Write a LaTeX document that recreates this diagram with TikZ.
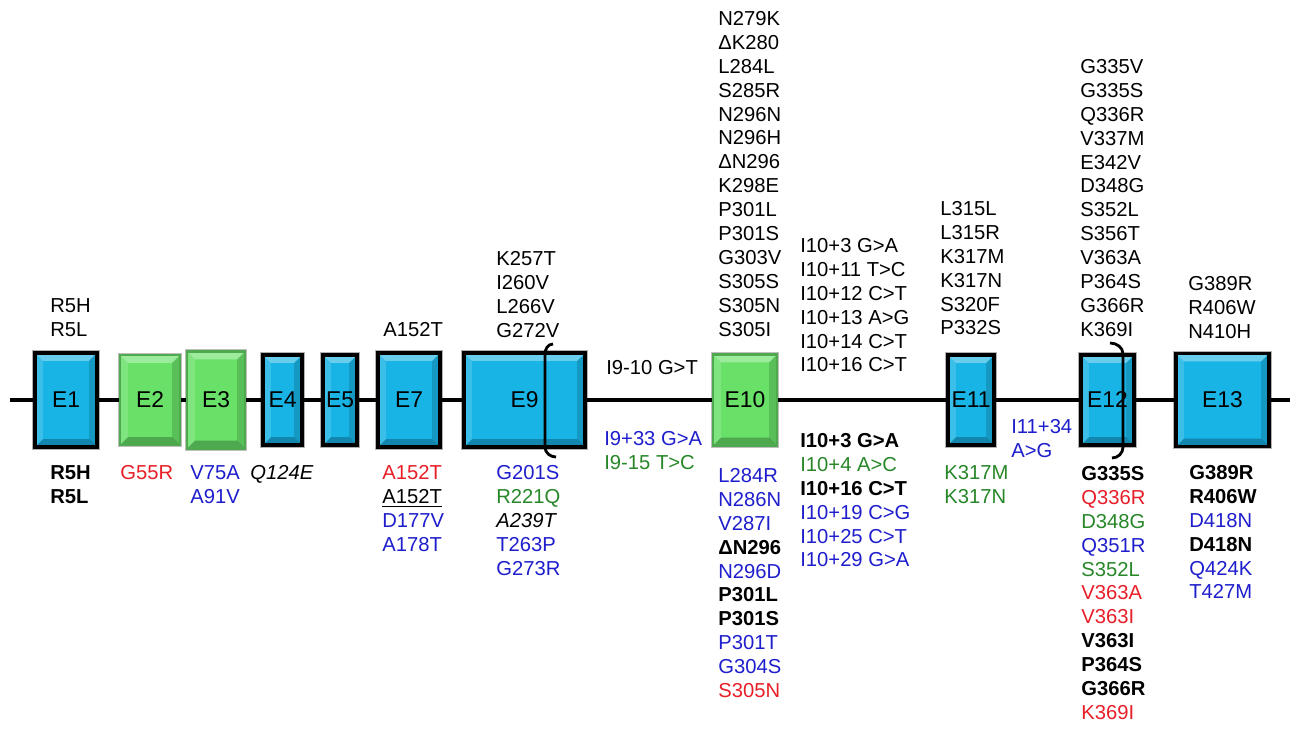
\documentclass[tikz,border=0pt]{standalone}
\usepackage{fontspec}
\setmainfont{Liberation Sans}
\usetikzlibrary{calc,positioning}
\definecolor{exblue}{RGB}{25,180,230}
\definecolor{exgreen}{RGB}{105,225,105}
\definecolor{mred}{RGB}{232,30,40}
\definecolor{mblue}{RGB}{30,30,205}
\definecolor{mgreen}{RGB}{40,135,40}
\newcommand\mutR[1]{\textcolor{mred}{#1}}
\newcommand\mutB[1]{\textcolor{mblue}{#1}}
\newcommand\mutG[1]{\textcolor{mgreen}{#1}}
\newcommand\mutK[1]{\textbf{#1}}
\newcommand\bevelfaces{%
\fill[white,opacity=.35](path picture bounding box.north west)--(path picture bounding box.north east)
  --($(path picture bounding box.north east)+(-4.5pt,-4.5pt)$)--($(path picture bounding box.north west)+(4.5pt,-4.5pt)$)--cycle;
\fill[black,opacity=.25](path picture bounding box.south west)--(path picture bounding box.south east)
  --($(path picture bounding box.south east)+(-4.5pt,4.5pt)$)--($(path picture bounding box.south west)+(4.5pt,4.5pt)$)--cycle;
\fill[white,opacity=.15](path picture bounding box.north west)--(path picture bounding box.south west)
  --($(path picture bounding box.south west)+(4.5pt,4.5pt)$)--($(path picture bounding box.north west)+(4.5pt,-4.5pt)$)--cycle;
\fill[black,opacity=.15](path picture bounding box.north east)--(path picture bounding box.south east)
  --($(path picture bounding box.south east)+(-4.5pt,4.5pt)$)--($(path picture bounding box.north east)+(-4.5pt,-4.5pt)$)--cycle;}
\tikzset{
  exsize/.style 2 args={rectangle,minimum width=#1*0.02cm,minimum height=#2*0.02cm,inner sep=0pt,
    font=\fontsize{13}{15}\selectfont,path picture={\bevelfaces}},
  exonB/.style={draw=black,line width=1.8pt,fill=exblue,preaction={draw=gray!60,line width=3.4pt}},
  exonG/.style={draw=exgreen!75!black,line width=1.4pt,fill=exgreen,preaction={draw=gray!50,line width=2.8pt}},
  mut/.style={anchor=north west,align=left,inner sep=0pt,font=\fontsize{11.5}{13.6}\selectfont},
  backbone/.style={line width=2.2pt},
  brace/.style={line width=1.6pt}
}
\begin{document}
\begin{tikzpicture}[x=0.02cm,y=-0.02cm]
\useasboundingbox[fill=white](0,0)rectangle(1300,732);
% exons
\node[exonB,exsize={62}{94}](E1)at(66,400){E1};
\node[exonG,exsize={60}{90}](E2)at(150,400){E2};
\node[exonG,exsize={58}{97}](E3)at(216,400){E3};
\node[exonB,exsize={39}{90}](E4)at(282.5,400){E4};
\node[exonB,exsize={34}{90}](E5)at(340,400){E5};
\node[exonB,exsize={62}{94}](E7)at(409,400){E7};
\node[exonB,exsize={121}{94}](E9)at(524.5,400){E9};
\node[exonG,exsize={64}{91}](E10)at(745,400){E10};
\node[exonB,exsize={46}{90}](E11)at(971,400){E11};
\node[exonB,exsize={53}{90}](E12)at(1107.5,400){E12};
\node[exonB,exsize={93}{93}](E13)at(1222.5,400){E13};
\coordinate(L)at(10,400);\coordinate(R)at(1290,400);
\draw[backbone](L)--(E1)(E1)--(E2)(E2)--(E3)(E3)--(E4)(E4)--(E5)(E5)--(E7)(E7)--(E9)
  (E9)--(E10)(E10)--(E11)(E11)--(E12)(E12)--(E13)(E13)--(R);
\draw[brace](553,344)to[out=180,in=90](545,354)--(545,447)to[out=-90,in=180](556,457);
\draw[brace](1110,343)to[out=0,in=90](1123,354)--(1123,447)to[out=-90,in=0](1112,458);
% above the line
\node[mut](aE1)at(50,298){R5H\\R5L};
\node[mut](aE7)at(383,322){A152T};
\node[mut](aE9)at(496,251){K257T\\I260V\\L266V\\G272V};
\node[mut](aE10)at(718,11){N279K\\ΔK280\\L284L\\S285R\\N296N\\N296H\\ΔN296\\K298E\\P301L\\P301S\\G303V\\S305S\\S305N\\S305I};
\node[mut](aI9)at(606,360){I9-10 G>T};
\node[mut](aI10)at(800,238){I10+3 G>A\\I10+11 T>C\\I10+12 C>T\\I10+13 A>G\\I10+14 C>T\\I10+16 C>T};
\node[mut](aE11)at(940,201){L315L\\L315R\\K317M\\K317N\\S320F\\P332S};
\node[mut](aE12)at(1080,59){G335V\\G335S\\Q336R\\V337M\\E342V\\D348G\\S352L\\S356T\\V363A\\P364S\\G366R\\K369I};
\node[mut](aE13)at(1188,276){G389R\\R406W\\N410H};
% below the line
\node[mut](bE1)at(50,465){\mutK{R5H}\\\mutK{R5L}};
\node[mut](bE2)at(120,465){\mutR{G55R}};
\node[mut](bE3)at(190,465){\mutB{V75A}\\\mutB{A91V}};
\node[mut](bE4)at(250,465){\textit{Q124E}};
\node[mut](bE7)at(382,465){\mutR{A152T}\\\underline{A152T}\\\mutB{D177V}\\\mutB{A178T}};
\node[mut](bE9)at(496,465){\mutB{G201S}\\\mutG{R221Q}\\\textit{A239T}\\\mutB{T263P}\\\mutB{G273R}};
\node[mut](bI9)at(604,431){\mutB{I9+33 G>A}\\\mutG{I9-15 T>C}};
\node[mut](bE10)at(718,468){\mutB{L284R}\\\mutB{N286N}\\\mutB{V287I}\\\mutK{ΔN296}\\\mutB{N296D}\\\mutK{P301L}\\\mutK{P301S}\\\mutB{P301T}\\\mutB{G304S}\\\mutR{S305N}};
\node[mut](bI10)at(800,433){\mutK{I10+3 G>A}\\\mutG{I10+4 A>C}\\\mutK{I10+16 C>T}\\\mutB{I10+19 C>G}\\\mutB{I10+25 C>T}\\\mutB{I10+29 G>A}};
\node[mut](bE11)at(944,465){\mutG{K317M}\\\mutG{K317N}};
\node[mut](bI11)at(1011,419){\mutB{I11+34}\\\mutB{A>G}};
\node[mut](bE12)at(1081,466){\mutK{G335S}\\\mutR{Q336R}\\\mutG{D348G}\\\mutB{Q351R}\\\mutG{S352L}\\\mutR{V363A}\\\mutR{V363I}\\\mutK{V363I}\\\mutK{P364S}\\\mutK{G366R}\\\mutR{K369I}};
\node[mut](bE13)at(1189,465){\mutK{G389R}\\\mutK{R406W}\\\mutB{D418N}\\\mutK{D418N}\\\mutB{Q424K}\\\mutB{T427M}};
\end{tikzpicture}
\end{document}
